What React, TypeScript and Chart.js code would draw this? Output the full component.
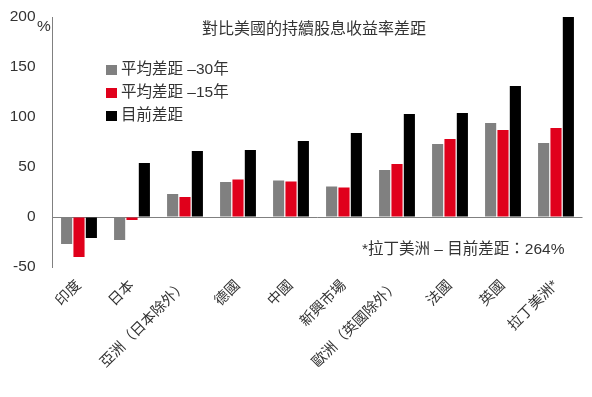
import React, { useEffect, useRef } from 'react';
import { Chart, registerables } from 'chart.js';

Chart.register(...registerables);

const categories = ['印度', '日本', '亞洲（日本除外）', '德國', '中國', '新興市場', '歐洲（英國除外）', '法國', '英國', '拉丁美洲*'];
const avg30 = [-27, -23, 23, 35, 36.5, 30.5, 47, 73, 94, 74];
const avg15 = [-40, -3, 20, 37.5, 35.5, 29.5, 53, 78, 87, 89];
const current = [-21, 54, 66, 67, 76, 84, 103, 104, 131, 264];
const yTicks = [-50, 0, 50, 100, 150, 200];
const seriesNames = ['平均差距 –30年', '平均差距 –15年', '目前差距'];
const seriesColors = ['#808080', '#e0001b', '#000000'];
const titleText = '對比美國的持續股息收益率差距';
const noteText = '*拉丁美洲 – 目前差距：264%';
const unitText = '%';

const FONT = "'Liberation Sans', 'Noto Sans CJK TC', sans-serif";

const overlay = {
  id: 'overlay',
  afterDraw(chart: any) {
    const ctx = chart.ctx;
    ctx.save();
    ctx.fillStyle = '#333333';
    ctx.textBaseline = 'middle';
    // title
    ctx.font = `16px ${FONT}`;
    ctx.textAlign = 'center';
    ctx.fillText(titleText, 314, 30);
    // unit
    ctx.font = `15.5px ${FONT}`;
    ctx.textAlign = 'left';
    ctx.fillText(unitText, 37, 27);
    // legend
    const rows = [70, 93, 116];
    chart.data.datasets.forEach((ds: any, i: number) => {
      const y = rows[i];
      ctx.fillStyle = ds.backgroundColor;
      ctx.fillRect(106, y - 5, 11, 10);
      ctx.fillStyle = '#333333';
      ctx.font = `15.5px ${FONT}`;
      ctx.fillText(ds.label, 121, y);
    });
    // note
    ctx.font = `15.5px ${FONT}`;
    ctx.fillText(noteText, 362, 250);
    ctx.restore();
  },
};

export default function App() {
  const ref = useRef<HTMLCanvasElement>(null);
  useEffect(() => {
    if (!ref.current) return;
    const chart = new Chart(ref.current, {
      type: 'bar',
      data: {
        labels: categories,
        datasets: [
          { label: seriesNames[0], data: avg30, backgroundColor: seriesColors[0] },
          { label: seriesNames[1], data: avg15, backgroundColor: seriesColors[1] },
          { label: seriesNames[2], data: current, backgroundColor: seriesColors[2] },
        ],
      },
      options: {
        responsive: false,
        animation: false,
        devicePixelRatio: 1,
        layout: { padding: { top: 17, right: 9.5, left: 0, bottom: 0 } },
        datasets: { bar: { categoryPercentage: 0.7, barPercentage: 0.9 } },
        plugins: { legend: { display: false }, tooltip: { enabled: false }, title: { display: false } },
        font: { family: FONT },
        scales: {
          x: {
            type: 'category',
            offset: true,
            ticks: {
              autoSkip: false,
              maxRotation: 45,
              minRotation: 45,
              padding: 10,
              color: '#333333',
              font: { size: 14.5, family: FONT },
            },
            grid: { display: false, drawTicks: false },
            border: { display: false },
            afterFit: (s: any) => {
              s.height = 130;
              s.paddingLeft = 0;
              s.paddingRight = 0;
            },
          },
          y: {
            min: -50,
            max: 200,
            afterBuildTicks: (s: any) => {
              s.ticks = yTicks.map((v) => ({ value: v }));
            },
            ticks: { padding: 17, color: '#333333', font: { size: 15.5, family: FONT } },
            grid: {
              drawTicks: false,
              color: (c: any) => (c.tick && c.tick.value === 0 ? '#808080' : 'rgba(0,0,0,0)'),
              lineWidth: 1,
            },
            border: { display: true, color: '#808080' },
            afterFit: (s: any) => {
              s.width = 52.5;
              s.paddingTop = 0;
              s.paddingBottom = 0;
            },
          },
        },
      } as any,
      plugins: [overlay],
    });
    return () => chart.destroy();
  }, []);
  return (
    <div style={{ position: 'absolute', left: 0, top: 0, width: 592, height: 397, background: '#fff' }}>
      <canvas ref={ref} width={592} height={397} />
    </div>
  );
}
